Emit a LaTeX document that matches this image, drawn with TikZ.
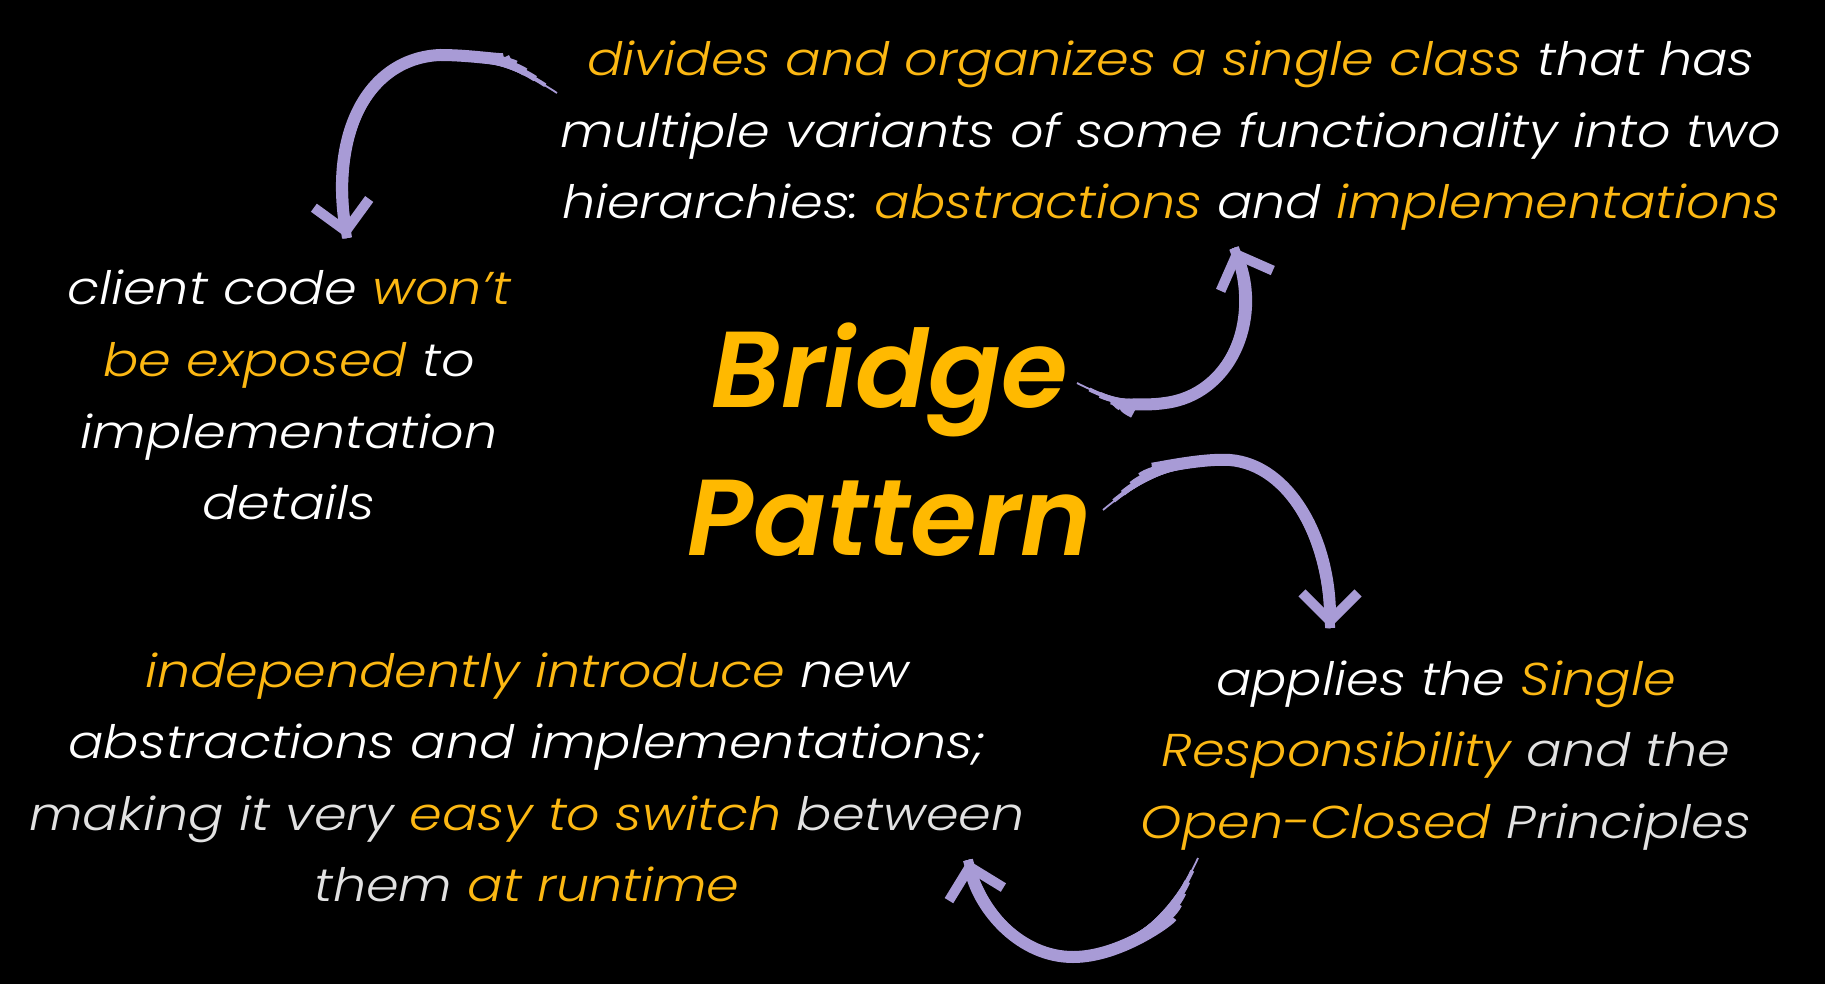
\documentclass[tikz,border=0pt]{standalone}
\usepackage{fontspec}
\usetikzlibrary{arrows.meta}
\newfontfamily\bodyfont{Poppins Light Italic}[FakeStretch=1.14]
\newfontfamily\titlefont{Poppins SemiBold Italic}
\definecolor{gold}{RGB}{252,184,19}
\definecolor{titlegold}{RGB}{255,185,0}
\definecolor{brushc}{RGB}{168,155,214}
\definecolor{softwhite}{RGB}{226,226,226}
\newcommand{\hl}[1]{{\color{gold}#1}}
\frenchspacing
\begin{document}
\begin{tikzpicture}[x=1pt,y=-1pt,
  blurb/.style={text=white,align=center,anchor=base,inner sep=0pt,
    font=\bodyfont\fontsize{46}{71.5}\selectfont},
  brush/.style={draw=brushc,line width=12pt,shorten <=64pt,
    -{Straight Barb[length=28pt,width=56pt,line width=10pt]},
    preaction={draw=brushc,line width=10pt,shorten <=50pt,arrows=-},
    preaction={draw=brushc,line width=8pt,shorten <=38pt,arrows=-},
    preaction={draw=brushc,line width=6pt,shorten <=26pt,arrows=-},
    preaction={draw=brushc,line width=4pt,shorten <=14pt,arrows=-},
    preaction={draw=brushc,line width=1.8pt,shorten <=0pt,arrows=-}}]
  % canvas
  \fill[black] (0,0) rectangle (1825,984);
  \useasboundingbox (0,0) rectangle (1825,984);

  % title
  \node[anchor=base,text=titlegold,align=center,inner sep=0pt,text width=600pt,
    font=\titlefont\fontsize{108}{148}\selectfont] (title) at (890,407) {Bridge\\Pattern};

  % surrounding statements
  \node[blurb,text width=1300pt] (top) at (1171,76)
    {\hl{divides and organizes a single class} that has\\
     multiple variants of some functionality into two\\
     hierarchies: \hl{abstractions} and \hl{implementations}};
  \node[blurb,text width=560pt] (left) at (289,305)
    {client code \hl{won’t}\\ \hl{be exposed} to\\ implementation\\ details};
  \node[blurb,text width=760pt,text=softwhite] (right) at (1446,695)
    {{\color{white}applies the} \hl{Single}\\ \hl{Responsibility} and the\\ \hl{Open-Closed} Principles};
  \node[blurb,text width=1100pt,text=softwhite] (bottom) at (527,687)
    {\hl{independently introduce} {\color{white}new}\\
     {\color{white}abstractions and implementations;}\\
     making it very \hl{easy to switch} between\\
     them \hl{at runtime}};

  % brush arrow end points
  \coordinate (a1s) at (557,93);  \coordinate (a1e) at (347,238);
  \coordinate (a2s) at (1077,383); \coordinate (a2e) at (1234,248);
  \coordinate (a3s) at (1103,510); \coordinate (a3e) at (1330,628);
  \coordinate (a4s) at (1198,858); \coordinate (a4e) at (968,860);

  % brush arrows
  \draw[brush] (a1s) .. controls (510,62) and (475,55) .. (440,55)
               .. controls (370,58) and (330,130) .. (a1e);
  \draw[brush] (a2s) .. controls (1110,400) and (1140,407) .. (1165,403)
               .. controls (1230,395) and (1262,320) .. (a2e);
  \draw[brush] (a3s) .. controls (1150,470) and (1200,458) .. (1230,460)
               .. controls (1290,465) and (1330,540) .. (a3e);
  \draw[brush] (a4s) .. controls (1170,920) and (1120,957) .. (1073,957)
               .. controls (1020,957) and (980,910) .. (a4e);
\end{tikzpicture}
\end{document}
